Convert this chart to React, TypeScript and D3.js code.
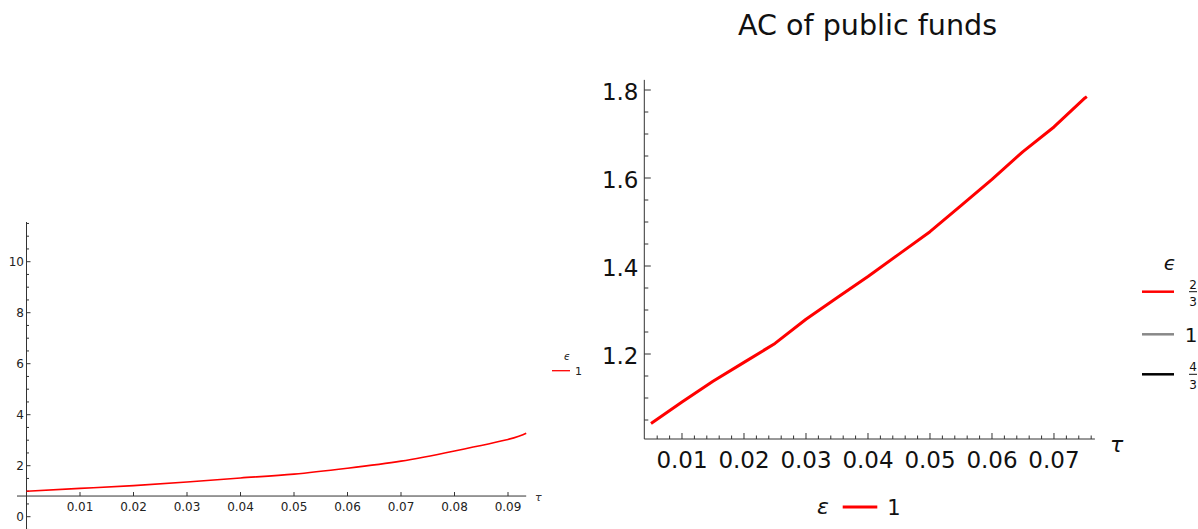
import React from "react";
import * as d3 from "d3";

// Left panel data
const leftTau = [0, 0.01, 0.02, 0.03, 0.04, 0.05, 0.06, 0.07, 0.08, 0.09, 0.0934];
const leftVal = [1.0, 1.11, 1.22, 1.36, 1.52, 1.67, 1.9, 2.18, 2.58, 3.03, 3.27];
const leftXTicks = [0.01, 0.02, 0.03, 0.04, 0.05, 0.06, 0.07, 0.08, 0.09];
const leftYTicks = [0, 2, 4, 6, 8, 10];

// Right panel data
const rightTau = [0.005, 0.01, 0.015, 0.02, 0.025, 0.03, 0.035, 0.04, 0.045, 0.05, 0.055, 0.06, 0.065, 0.07, 0.075, 0.0753];
const rightVal = [1.042, 1.091, 1.138, 1.181, 1.224, 1.279, 1.328, 1.376, 1.427, 1.478, 1.537, 1.597, 1.66, 1.716, 1.782, 1.785];
const rightXTicks = [0.01, 0.02, 0.03, 0.04, 0.05, 0.06, 0.07];
const rightYTicks = [1.2, 1.4, 1.6, 1.8];
const title = "AC of public funds";
const legendLabels = ["2/3", "1", "4/3"];
const legendColors = ["#ff0000", "#888888", "#000000"];

const FONT = "DejaVu Sans, Verdana, sans-serif";
const AX = "#333";

export default function App() {
  // Left scales
  const xL = d3.scaleLinear().domain([0, 0.0934]).range([26.5, 526.2]);
  const yL = d3.scaleLinear().domain([0, 10]).range([516.7, 261.7]);
  const lineL = d3
    .line<number>()
    .x((_, i) => xL(leftTau[i]))
    .y((d) => yL(d))
    .curve(d3.curveNatural);
  const yAxisL = yL(0.81);
  const leftMinorY = d3.range(-1, 24).map((k) => k * 0.5).filter((v) => Math.round(v * 2) % 4 !== 0);

  // Right scales
  const xR = d3.scaleLinear().domain([0.004, 0.0766]).range([644.8, 1094.9]);
  const yR = d3.scaleLinear().domain([1.2, 1.8]).range([354, 90]);
  const lineR = d3
    .line<number>()
    .x((_, i) => xR(rightTau[i]))
    .y((d) => yR(d))
    .curve(d3.curveLinear);
  const yMin = 1.0068;
  const yMax = 1.823;
  const xAxisRY = yR(yMin);
  const yAxisRX = 644.3;
  const rightMinorY = d3.range(21, 37).map((k) => k * 0.05).filter((v) => Math.round(v * 100) % 20 !== 0 && v > yMin && v < yMax);
  const rightMinorX = d3.range(2, 39).map((k) => k * 0.002).filter((v) => v > 0.0041 && v < 0.0765 && Math.round(v * 1000) % 10 !== 0);

  return (
    <div style={{ position: "absolute", left: 0, top: 0 }}>
      <svg width={1198} height={529} style={{ display: "block", background: "#fff" }} fontFamily={FONT}>
        {/* ===== Left panel ===== */}
        <line x1={17} x2={xL(0.0934)} y1={yAxisL} y2={yAxisL} stroke={AX} strokeWidth={1} />
        <line x1={xL(0)} x2={xL(0)} y1={222} y2={529} stroke={AX} strokeWidth={1} />
        {leftXTicks.map((t) => (
          <g key={"lx" + t}>
            <line x1={xL(t)} x2={xL(t)} y1={yAxisL} y2={yAxisL - 4} stroke={AX} />
            <text x={xL(t)} y={511} fontSize={12} textAnchor="middle" fill="#222">
              {t.toFixed(2)}
            </text>
          </g>
        ))}
        {leftYTicks.map((v) => (
          <g key={"ly" + v}>
            <line x1={xL(0)} x2={xL(0) + 4} y1={yL(v)} y2={yL(v)} stroke={AX} />
            <text x={24} y={yL(v) + 4.5} fontSize={12} textAnchor="end" fill="#222">
              {v}
            </text>
          </g>
        ))}
        {leftMinorY.map((v) => (
          <line key={"lmy" + v} x1={xL(0)} x2={xL(0) + 2.5} y1={yL(v)} y2={yL(v)} stroke={AX} />
        ))}
        <text x={535} y={501} fontSize={11} fontStyle="italic" fill="#333">
          τ
        </text>
        <path d={lineL(leftVal) || ""} fill="none" stroke="#ff0000" strokeWidth={1.6} />
        {/* left legend */}
        <text x={567} y={360} fontSize={10} fontStyle="italic" textAnchor="middle" fill="#222">
          ϵ
        </text>
        <line x1={552} x2={570} y1={370.7} y2={370.7} stroke="#ff0000" strokeWidth={1.3} />
        <text x={575} y={374.5} fontSize={11} fill="#222">
          1
        </text>

        {/* ===== Right panel ===== */}
        <text x={867.5} y={35} fontSize={28.6} textAnchor="middle" fill="#111">
          {title}
        </text>
        <line x1={yAxisRX} x2={xR(0.0766)} y1={xAxisRY} y2={xAxisRY} stroke={AX} strokeWidth={1} />
        <line x1={yAxisRX} x2={yAxisRX} y1={yR(yMax)} y2={xAxisRY} stroke={AX} strokeWidth={1} />
        {rightXTicks.map((t) => (
          <g key={"rx" + t}>
            <line x1={xR(t)} x2={xR(t)} y1={xAxisRY} y2={xAxisRY - 6} stroke={AX} />
            <text x={xR(t)} y={468} fontSize={23} textAnchor="middle" fill="#111">
              {t.toFixed(2)}
            </text>
          </g>
        ))}
        {rightMinorX.map((t) => (
          <line key={"rmx" + t} x1={xR(t)} x2={xR(t)} y1={xAxisRY} y2={xAxisRY - 3.5} stroke={AX} />
        ))}
        {rightYTicks.map((v) => (
          <g key={"ry" + v}>
            <line x1={yAxisRX} x2={yAxisRX + 6.5} y1={yR(v)} y2={yR(v)} stroke={AX} />
            <text x={638.5} y={yR(v) + 10} fontSize={23} textAnchor="end" fill="#111">
              {v.toFixed(1)}
            </text>
          </g>
        ))}
        {rightMinorY.map((v) => (
          <line key={"rmy" + v} x1={yAxisRX} x2={yAxisRX + 4} y1={yR(v)} y2={yR(v)} stroke={AX} />
        ))}
        <text x={1110} y={452} fontSize={22} fontStyle="italic" fill="#111">
          τ
        </text>
        <path d={lineR(rightVal) || ""} fill="none" stroke="#ff0000" strokeWidth={3} strokeLinejoin="round" />

        {/* right legend */}
        <text x={1170} y={270} fontSize={20} fontStyle="italic" textAnchor="middle" fill="#111">
          ϵ
        </text>
        {legendLabels.map((lab, i) => {
          const y = [291.7, 334.3, 374.3][i];
          const parts = lab.split("/");
          return (
            <g key={"lg" + i}>
              <line x1={1142} x2={1174} y1={y} y2={y} stroke={legendColors[i]} strokeWidth={2.5} />
              {parts.length === 2 ? (
                <g>
                  <text x={1193} y={y - 3} fontSize={12} textAnchor="middle" fill="#111">
                    {parts[0]}
                  </text>
                  <line x1={1189} x2={1197} y1={y} y2={y} stroke="#111" strokeWidth={1} />
                  <text x={1193} y={y + 14.5} fontSize={12} textAnchor="middle" fill="#111">
                    {parts[1]}
                  </text>
                </g>
              ) : (
                <text x={1191} y={y + 7.5} fontSize={20} textAnchor="middle" fill="#111">
                  {lab}
                </text>
              )}
            </g>
          );
        })}

        {/* bottom legend */}
        <text x={823} y={514} fontSize={22} fontStyle="italic" textAnchor="middle" fill="#111">
          ε
        </text>
        <line x1={842.7} x2={877.3} y1={507} y2={507} stroke="#ff0000" strokeWidth={3} />
        <text x={894} y={514.5} fontSize={21} textAnchor="middle" fill="#111">
          1
        </text>
      </svg>
    </div>
  );
}
